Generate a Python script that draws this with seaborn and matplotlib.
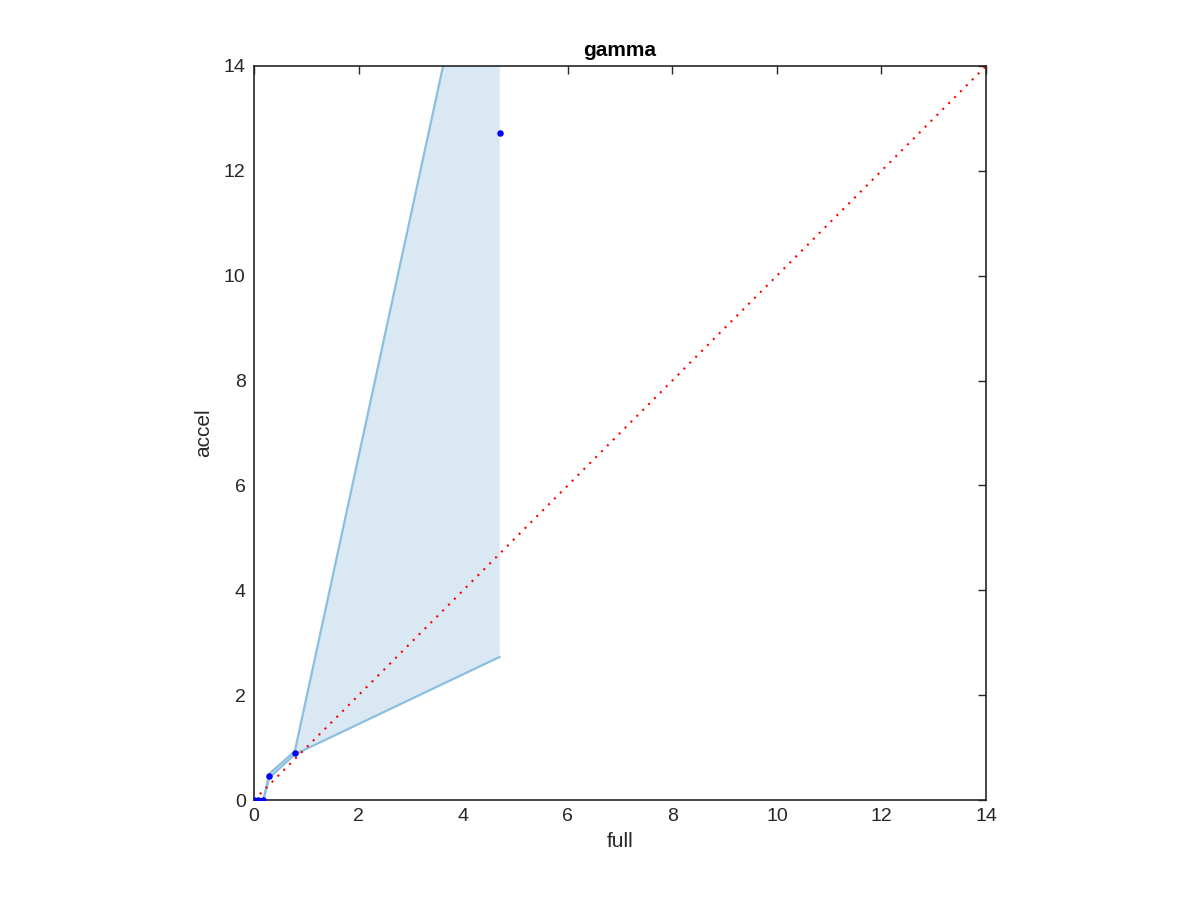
import matplotlib
matplotlib.use("Agg")
import matplotlib.pyplot as plt
import seaborn as sns
import pandas as pd

# readings
full = [0.0, 0.08, 0.18, 0.29, 0.78, 4.70]
accel = [0.0, 0.0, 0.0, 0.45, 0.90, 12.72]
accel_lo = [0.0, 0.0, 0.0, 0.42, 0.87, 2.73]
accel_hi = [0.0, 0.0, 0.0, 0.50, 0.93, 19.0]
diag = [0, 14]
ticks = [0, 2, 4, 6, 8, 10, 12, 14]


def plot_gamma():
    sns.set_style("white")
    plt.rcParams['font.family'] = ['Liberation Sans', 'DejaVu Sans']
    df = pd.DataFrame({'full': full, 'accel': accel, 'lo': accel_lo, 'hi': accel_hi})

    fig = plt.figure(figsize=(12, 9), dpi=100)
    ax = fig.add_axes([0.2117, 0.1111, 0.61, 0.8156])

    band = '#8bbfe0'
    ax.fill_between(df['full'], df['lo'], df['hi'], color='#d9e8f3', lw=0)
    sns.lineplot(data=df, x='full', y='lo', color=band, lw=1.6, ax=ax)
    sns.lineplot(data=df, x='full', y='hi', color=band, lw=1.6, ax=ax)
    sns.lineplot(x=diag, y=diag, color='red', lw=1.5, linestyle=(0, (1, 3)), ax=ax)
    sns.scatterplot(data=df, x='full', y='accel', color='blue', s=22, edgecolor='blue',
                    linewidth=0, ax=ax, zorder=5)

    ax.set_xlim(0, 14)
    ax.set_ylim(0, 14)
    ax.set_xticks(ticks)
    ax.set_yticks(ticks)
    ax.tick_params(direction='in', length=6, width=1, labelsize=14, colors='#262626',
                   pad=6, top=True, right=True)
    for s in ax.spines.values():
        s.set_visible(True)
        s.set_color('#262626')
        s.set_linewidth(1.2)
    ax.set_xlabel('full', fontsize=15, color='#262626', labelpad=5)
    ax.set_ylabel('accel', fontsize=15, color='#262626', labelpad=8)
    ax.set_title('gamma', fontsize=15, fontweight='bold', color='black', pad=7)
    fig.savefig('out.png', dpi=100)


def main():
    plot_gamma()


if __name__ == "__main__":
    main()
